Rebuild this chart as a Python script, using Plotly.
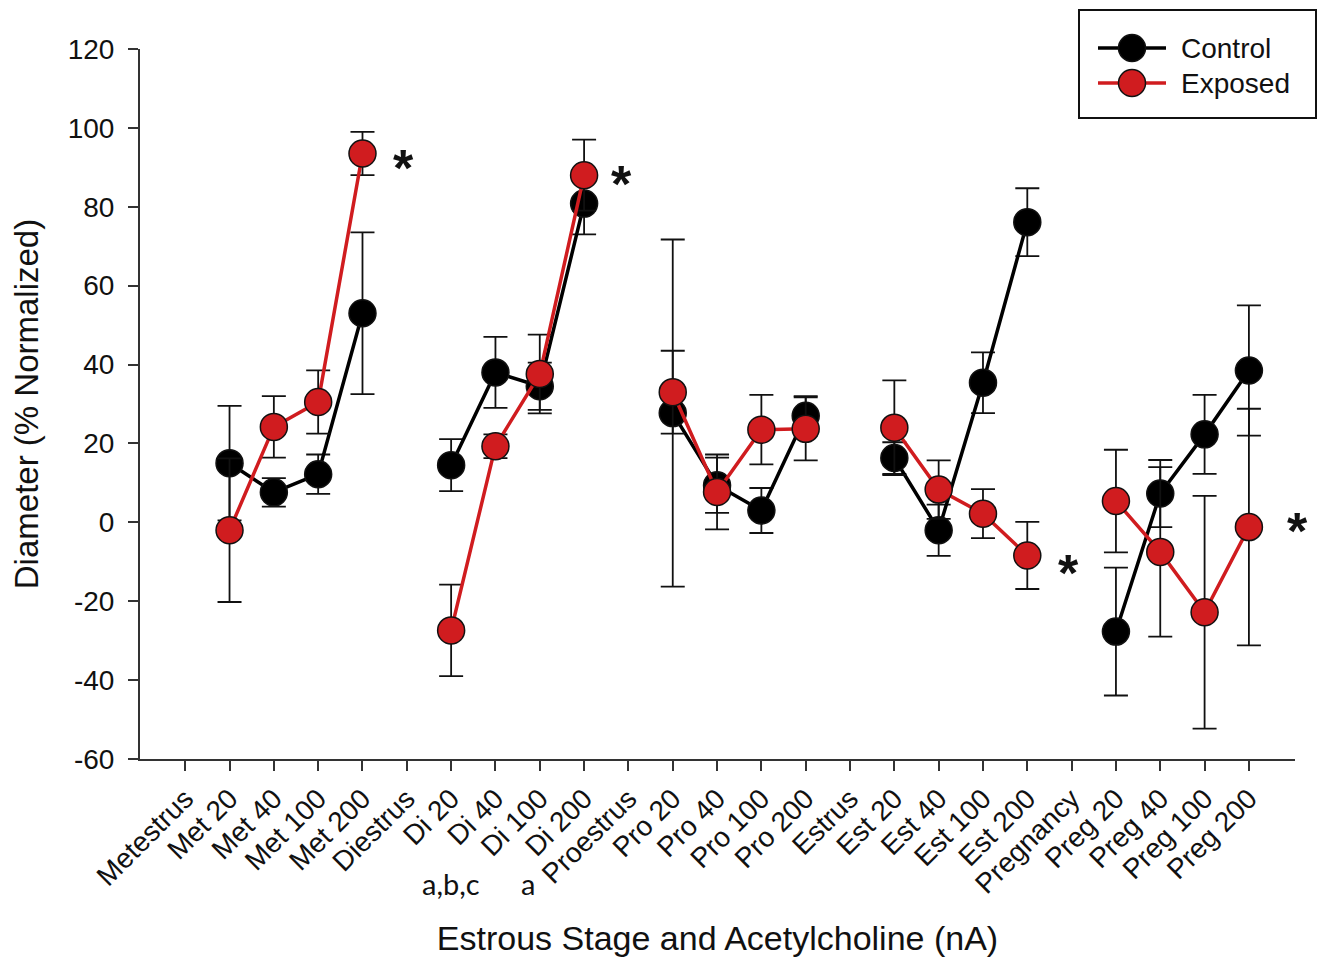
import plotly.graph_objects as go

categories = ["Metestrus", "Met 20", "Met 40", "Met 100", "Met 200",
              "Diestrus", "Di 20", "Di 40", "Di 100", "Di 200",
              "Proestrus", "Pro 20", "Pro 40", "Pro 100", "Pro 200",
              "Estrus", "Est 20", "Est 40", "Est 100", "Est 200",
              "Pregnancy", "Preg 20", "Preg 40", "Preg 100", "Preg 200"]

control = [None, 15.0, 7.6, 12.2, 53.0,
           None, 14.5, 38.0, 34.5, 80.8,
           None, 27.7, 9.4, 3.0, 27.0,
           None, 16.3, -2.0, 35.4, 76.1,
           None, -27.7, 7.3, 22.3, 38.5]
control_err = [None, 14.5, 3.6, 5.0, 20.5,
               None, 6.6, 9.0, 6.0, 7.8,
               None, 44.0, 7.0, 5.7, 5.0,
               None, 4.0, 6.5, 7.7, 8.6,
               None, 16.2, 8.5, 10.0, 16.5]

exposed = [None, -2.0, 24.2, 30.5, 93.5,
           None, -27.4, 19.3, 37.6, 88.0,
           None, 33.0, 7.7, 23.5, 23.7,
           None, 24.0, 8.3, 2.2, -8.4,
           None, 5.4, -7.5, -22.8, -1.2]
exposed_err = [None, 18.2, 7.8, 8.0, 5.5,
               None, 11.6, 3.0, 10.0, 9.0,
               None, 10.5, 9.5, 8.8, 8.0,
               None, 12.0, 7.4, 6.2, 8.5,
               None, 13.0, 21.5, 29.5, 30.0]

y_tick_vals = [-60, -40, -20, 0, 20, 40, 60, 80, 100, 120]
y_tick_text = ["-60", "-40", "-20", "0", "20", "40", "60", "80", "100", "120"]

series_names = ["Control", "Exposed"]
series_colors = ["#000000", "#d01c1f"]

# significance marks: (category, y value)
star_cats = ["Met 200", "Di 200", "Est 200", "Preg 200"]
star_vals = [91.4, 87.3, -11.3, -0.8]
star_xshift = [41, 37, 41, 49]

letter_labels = ["a,b,c", "a"]
letter_cats = ["Di 20", "Di 40"]

FONT = "Liberation Sans, Arial, sans-serif"

fig = go.Figure()
for name, vals, errs, col in [(series_names[0], control, control_err, series_colors[0]),
                              (series_names[1], exposed, exposed_err, series_colors[1])]:
    fig.add_trace(go.Scatter(
        x=categories, y=vals, name=name, mode="lines+markers",
        connectgaps=False,
        line=dict(color=col, width=3.5),
        marker=dict(size=27, color=col, line=dict(color="#111111", width=1.5)),
        error_y=dict(type="data", array=errs, visible=True, color="#111111",
                     thickness=1.8, width=12),
        showlegend=False,
    ))

for c, v, dx in zip(star_cats, star_vals, star_xshift):
    fig.add_annotation(x=c, y=v, xref="x", yref="y", text="<b>*</b>", showarrow=False,
                       xshift=dx, yshift=-6,
                       font=dict(family=FONT, size=52, color="#111111"))

for c, t, dx in zip(letter_cats, letter_labels, [0, 33]):
    fig.add_annotation(x=c, y=-0.176, xref="x", yref="paper", text=t, showarrow=False,
                       xshift=dx, yanchor="middle",
                       font=dict(family="Lato, Open Sans, sans-serif", size=29, color="#111111"))

# page body has an 8px margin in the browser; size the figure to fit inside it
OFF = 8
W, H = 1326 - 2 * OFF, 965 - 2 * OFF
L, T = 140 - OFF, 49 - OFF
R = W - (1295 - OFF)
B = H - (759 - OFF)
pw, ph = W - L - R, H - T - B
px = lambda v: (v - OFF - L) / pw
py = lambda v: (H - B - (v - OFF)) / ph

fig.add_shape(type="rect", xref="paper", yref="paper",
              x0=px(1079), x1=px(1316), y0=py(118), y1=py(10),
              line=dict(color="#111111", width=2), fillcolor="white")
for i, (name, col) in enumerate(zip(series_names, series_colors)):
    yy = py(48 + 35 * i)
    fig.add_shape(type="line", xref="paper", yref="paper",
                  x0=px(1098), x1=px(1166), y0=yy, y1=yy,
                  line=dict(color=col, width=3.5))
    fig.add_shape(type="circle", xref="paper", yref="paper",
                  xsizemode="pixel", ysizemode="pixel",
                  xanchor=px(1132), yanchor=yy, x0=-13.5, x1=13.5, y0=-13.5, y1=13.5,
                  fillcolor=col, line=dict(color="#111111", width=1.5))
    fig.add_annotation(x=px(1179), y=yy, xref="paper", yref="paper", text=name,
                       showarrow=False, xanchor="left", yanchor="middle",
                       font=dict(family=FONT, size=28, color="#111111"))

fig.update_layout(
    width=W, height=H,
    margin=dict(l=L, r=R, t=T, b=B, autoexpand=False),
    paper_bgcolor="white", plot_bgcolor="white",
    font=dict(family=FONT, size=28, color="#111111"),
    showlegend=False,
)
fig.update_xaxes(
    type="category", categoryorder="array", categoryarray=categories,
    range=[-1.02, 25.04], showgrid=False, zeroline=False,
    showline=True, linecolor="#333333", linewidth=2,
    ticks="outside", ticklen=10, tickwidth=2, tickcolor="#333333",
    tickangle=-45, tickfont=dict(size=28),
    title=dict(text="Estrous Stage and Acetylcholine (nA)", font=dict(size=34), standoff=40),
    automargin=False,
)
fig.update_yaxes(
    range=[-60, 120], tickmode="array", tickvals=y_tick_vals, ticktext=y_tick_text,
    showgrid=False, zeroline=False,
    showline=True, linecolor="#333333", linewidth=2,
    ticks="outside", ticklen=10, tickwidth=2, tickcolor="#333333",
    tickfont=dict(size=28), ticklabelstandoff=8,
    title=dict(text="Diameter (% Normalized)", font=dict(size=33), standoff=22),
    automargin=False,
)

fig.write_html("out.html")
